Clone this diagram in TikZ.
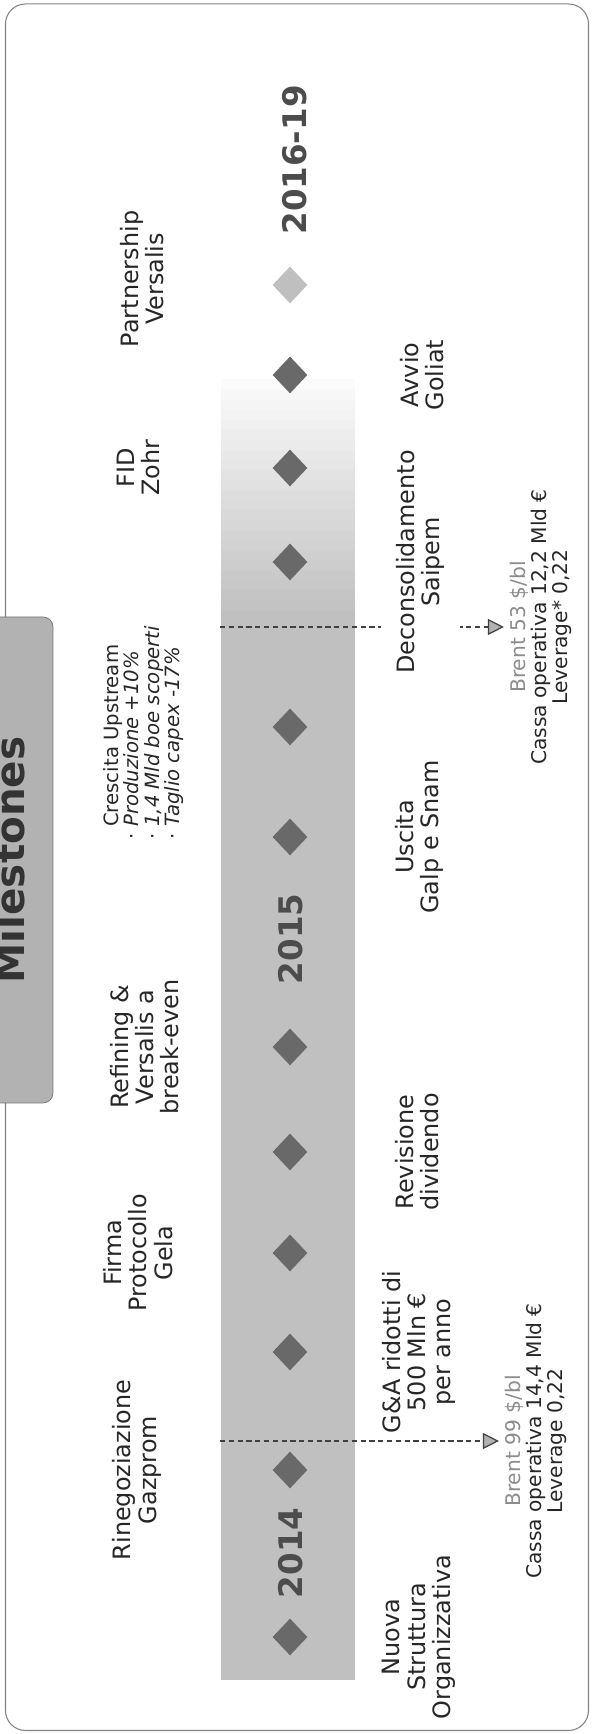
\documentclass[tikz,border=0pt]{standalone}
\usepackage{fontspec}
\setmainfont{DejaVu Sans}
\usetikzlibrary{positioning,arrows.meta,shapes.geometric}
\definecolor{bandgray}{RGB}{192,192,192}
\definecolor{gemgray}{RGB}{105,105,105}
\definecolor{framegray}{RGB}{130,130,130}

\begin{document}
\begin{tikzpicture}[rotate=90, transform shape, x=1cm, y=1cm,
    every node/.style={font=\fontsize{13.6}{14.4}\selectfont, text=black!85, align=center},
    gem/.style={diamond, fill=gemgray, inner sep=0pt, minimum width=0.74cm, minimum height=0.7cm},
    yearlbl/.style={font=\fontsize{18.5}{20}\selectfont\bfseries, text=black!70},
    cash/.style={font=\fontsize{11.5}{12}\selectfont},
    link/.style={densely dashed, draw=black!75, line width=0.7pt, -{Triangle[length=3.2mm,width=3.2mm,fill=black!30]}}]
  \useasboundingbox (0,0) rectangle (34.68,11.84);
  \clip (0,0) rectangle (34.68,11.84);
  % frame and title tab
  \draw[framegray, line width=0.6pt, rounded corners=0.4cm] (0.07,0.07) rectangle (34.6,11.73);
  \node[draw=black!55, fill=black!30, rounded corners=0.2cm, minimum width=9.72cm, minimum height=1.6cm] (tab) at (17.48,11.58) {};
  \node[font=\fontsize{23}{24}\selectfont\bfseries, text=black!80, anchor=base] (title) at (17.48,11.34) {Milestones};
  % timeline band, fading out towards 2016-19
  \fill[bandgray] (1.08,4.74) rectangle (22.3,7.42);
  \foreach \i in {0,...,23} {
    \pgfmathtruncatemacro\tone{100-4*\i}
    \fill[bandgray!\tone] (22.28+0.2*\i,4.74) rectangle (22.5+0.2*\i,7.42);
  }
  % cash arrows
  \node[cash] (cash14) at (5.86,1.12) {{\color{black!45}Brent 99 \$/bl}\\Cassa operativa 14,4 Mld €\\Leverage 0,22};
  \node[cash] (cash15) at (22.14,1.02) {{\color{black!45}Brent 53 \$/bl}\\Cassa operativa 12,2 Mld €\\Leverage* 0,22};
  \coordinate (t14) at (5.86,7.44);
  \coordinate (t15) at (22.14,7.44);
  \draw[link] (t14) -- (cash14.north);
  \draw[link] (t15) -- (cash15.north);
  % milestones
  \foreach \x/\n in {1.94/a, 5.28/b, 7.64/c, 9.62/d, 11.64/e, 13.74/f, 17.94/g, 20.14/h, 23.44/i, 25.32/j, 27.18/k}
    \node[gem] (d\n) at (\x,6.04) {};
  \node[gem, fill=black!25] (dl) at (28.98,6.04) {};
  \node[yearlbl] (y14) at (3.62,6.02) {2014};
  \node[yearlbl] (y15) at (15.9,6.02) {2015};
  \node[yearlbl] (y16) at (31.48,5.95) {2016-19};
  % labels above
  \node (gazprom) at (5.28,9.1) {Rinegoziazione\\Gazprom};
  \node (gela) at (9.62,9.08) {Firma\\Protocollo\\Gela};
  \node (refining) at (13.74,8.95) {Refining \&\\Versalis a\\break-even};
  \node[anchor=west, align=left, font=\fontsize{11.2}{11.6}\selectfont] (upstream) at (18.02,8.97)
    {Crescita Upstream\\\llap{· }\textit{Produzione +10\%}\\\llap{· }\textit{1,4 Mld boe scoperti}\\\llap{· }\textit{Taglio capex -17\%}};
  \node (zohr) at (25.32,9.07) {FID\\Zohr};
  \node (versalis) at (29.1,9.0) {Partnership\\Versalis};
  % labels below
  \node (struttura) at (1.94,3.46) {Nuova\\Struttura\\Organizzativa};
  \node (ga) at (7.64,3.46) {G\&A ridotti di\\500 Mln €\\per anno};
  \node (dividendo) at (11.64,3.5) {Revisione\\dividendo};
  \node (uscita) at (17.94,3.45) {Uscita\\Galp e Snam};
  \node[fill=white, inner sep=0.3cm] (saipem) at (23.44,3.43) {Deconsolidamento\\Saipem};
  \node (goliat) at (27.18,3.4) {Avvio\\Goliat};
\end{tikzpicture}
\end{document}
